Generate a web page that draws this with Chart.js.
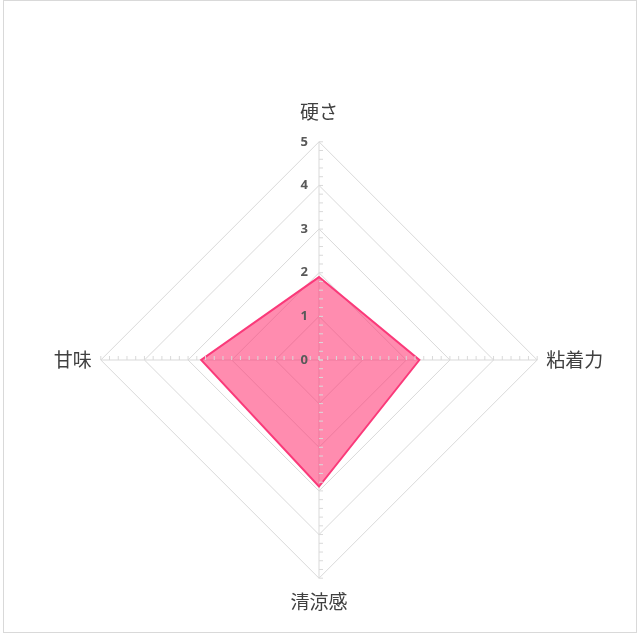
<!DOCTYPE html>
<html>
<head>
<meta charset="utf-8">
<script src="https://cdn.jsdelivr.net/npm/chart.js@4.4.1/dist/chart.umd.min.js"></script>
<style>
  html, body { margin: 0; padding: 0; background: #fff; }
  #box { position: absolute; left: 3px; top: 0px; width: 632px; height: 631px; border: 1px solid #d9d9d9; background: #fff; }
</style>
</head>
<body>
<div id="box"><canvas id="radar-chart"></canvas></div>
<script>
// Chart data
var labels = ['硬さ', '粘着力', '清涼感', '甘味'];
var values = [1.9, 2.3, 2.9, 2.7];
var tickValues = [0, 1, 2, 3, 4, 5];

var textColor = '#595959';
var gridColor = '#d9d9d9';

// minor tick marks on each axis + tick labels on the vertical axis
var axisDecor = {
    id: 'axisDecor',
    afterDatasetsDraw: function (chart) {
        var scale = chart.scales.r;
        var ctx = chart.ctx;
        ctx.save();
        ctx.strokeStyle = gridColor;
        ctx.lineWidth = 1;
        for (var i = 0; i < labels.length; i++) {
            for (var v = 0; v <= 25; v++) {
                var p = scale.getPointPositionForValue(i, v / 5);
                ctx.beginPath();
                if (i % 2 === 0) {
                    ctx.moveTo(p.x, p.y);
                    ctx.lineTo(p.x + 4, p.y);
                } else {
                    ctx.moveTo(p.x, p.y);
                    ctx.lineTo(p.x, p.y - 4);
                }
                ctx.stroke();
            }
        }
        ctx.fillStyle = textColor;
        ctx.font = 'bold 13px "Open Sans", "Noto Sans", sans-serif';
        ctx.textAlign = 'right';
        ctx.textBaseline = 'middle';
        tickValues.forEach(function (t) {
            var p = scale.getPointPositionForValue(0, t);
            ctx.fillText(String(t), p.x - 11, p.y);
        });
        ctx.restore();
    }
};

var ctx = document.getElementById('radar-chart');

var config = {
    type: 'radar',
    data: {
        labels: labels,
        datasets: [{
            data: values,
            backgroundColor: 'rgba(255, 45, 110, 0.55)',
            borderColor: '#fa3a7a',
            borderWidth: 2,
            pointRadius: 0,
            pointHoverRadius: 0
        }]
    },
    options: {
        responsive: true,
        maintainAspectRatio: false,
        animation: false,
        layout: {
            padding: { top: 95, bottom: 15, left: 38, right: 20 }
        },
        plugins: {
            legend: { display: false },
            tooltip: { enabled: false }
        },
        scales: {
            r: {
                min: 0,
                max: 5,
                ticks: { stepSize: 1, display: false },
                grid: { color: gridColor, lineWidth: 1, circular: false },
                angleLines: { color: gridColor, lineWidth: 1 },
                pointLabels: {
                    color: '#404040',
                    padding: function (c) { return c.index === 0 ? 19 : (c.index === 2 ? 12 : 9); },
                    font: { family: '"Noto Sans CJK JP", sans-serif', size: 19 }
                }
            }
        }
    },
    plugins: [axisDecor]
};

var radarChart = new Chart(ctx, config);
</script>
</body>
</html>
